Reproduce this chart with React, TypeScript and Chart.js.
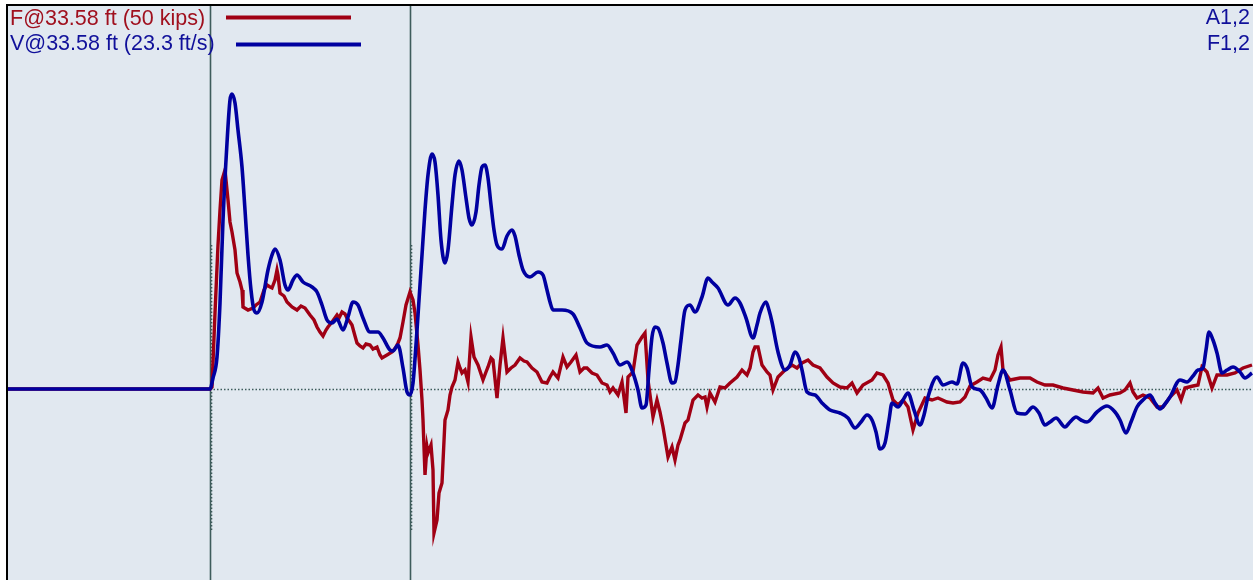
import React, { useEffect, useRef } from "react";
import { Chart, registerables } from "chart.js";

Chart.register(...registerables);

// Time in samples relative to impact (0 = impact, 200 = 2L/c)
const velocityTime = [-203, 0, 3, 7, 10, 13, 17, 20, 22, 25, 28, 32, 35, 38, 41, 44, 47, 52, 58, 62, 65, 70, 75, 78, 83, 87, 93, 102, 107, 112, 117, 122, 127, 133, 138, 143, 148, 153, 160, 168, 173, 180, 183, 188, 193, 197, 200, 203, 206, 209, 212, 215, 218, 222, 225, 228, 231, 235, 238, 242, 245, 249, 252, 256, 259, 262, 266, 269, 272, 275, 278, 281, 284, 287, 292, 297, 302, 305, 309, 313, 320, 328, 333, 337, 340, 343, 352, 363, 370, 377, 390, 397, 403, 410, 417, 423, 428, 432, 436, 439, 442, 445, 448, 453, 457, 462, 465, 468, 471, 475, 480, 485, 492, 498, 502, 508, 518, 525, 530, 536, 543, 547, 550, 556, 559, 562, 568, 575, 580, 585, 589, 592, 597, 605, 612, 620, 630, 638, 645, 651, 657, 662, 666, 670, 675, 679, 682, 688, 693, 698, 704, 710, 714, 718, 727, 733, 742, 747, 753, 757, 762, 770, 776, 782, 788, 793, 800, 807, 815, 823, 829, 835, 840, 846, 855, 860, 866, 871, 877, 887, 897, 905, 910, 916, 921, 927, 933, 940, 945, 950, 955, 960, 970, 977, 983, 988, 993, 996, 999, 1003, 1007, 1012, 1017, 1023, 1030, 1035, 1042];
const velocityTrace = [0, 0, 11, 32, 86, 169, 246, 289, 295, 286, 259, 222, 179, 134, 99, 79, 76, 87, 119, 134, 140, 129, 104, 99, 109, 114, 107, 102, 97, 84, 69, 66, 70, 59, 72, 87, 84, 71, 57, 57, 51, 39, 38, 44, 21, -3, -6, 6, 44, 89, 134, 179, 214, 235, 227, 194, 149, 126, 139, 184, 214, 228, 219, 191, 171, 164, 177, 204, 222, 224, 211, 184, 159, 144, 140, 153, 159, 153, 134, 119, 112, 117, 114, 99, 87, 79, 79, 75, 61, 46, 42, 44, 36, 24, 27, 16, -1, -19, -16, 19, 52, 62, 61, 46, 26, 6, 7, 24, 49, 79, 84, 77, 92, 111, 107, 101, 84, 91, 86, 71, 51, 64, 76, 87, 79, 67, 37, 19, 24, 37, 31, 19, -3, -6, -14, -21, -24, -29, -39, -33, -26, -31, -43, -60, -54, -31, -14, -18, -11, -4, -21, -36, -26, -8, 12, 4, 7, 5, 26, 21, 2, -1, -9, -19, 4, 19, -1, -24, -25, -18, -24, -36, -33, -29, -38, -33, -28, -31, -33, -23, -17, -23, -31, -44, -33, -18, -11, -6, -14, -20, -15, -8, 9, 7, 13, 19, 21, 39, 57, 49, 36, 16, 19, 22, 17, 11, 16];

const forceTime = [-203, 0, 2, 5, 8, 10, 12, 15, 18, 20, 22, 25, 27, 30, 32, 33, 38, 43, 46, 50, 54, 57, 60, 62, 65, 67, 68, 70, 74, 77, 82, 87, 91, 95, 100, 104, 107, 110, 113, 116, 118, 122, 127, 129, 132, 135, 137, 140, 142, 145, 147, 150, 153, 156, 160, 163, 167, 170, 172, 177, 182, 186, 188, 190, 193, 196, 200, 203, 205, 208, 210, 212, 213, 215, 217, 218, 221, 223, 224, 227, 229, 232, 235, 238, 240, 242, 245, 248, 250, 252, 255, 258, 261, 264, 268, 273, 276, 278, 281, 283, 287, 290, 293, 295, 297, 301, 305, 310, 314, 317, 322, 327, 332, 337, 340, 343, 348, 353, 357, 361, 366, 370, 374, 377, 382, 387, 392, 397, 400, 403, 408, 412, 416, 418, 423, 427, 432, 435, 438, 443, 447, 450, 453, 458, 462, 465, 468, 470, 475, 478, 483, 488, 492, 495, 497, 500, 505, 510, 515, 520, 527, 532, 537, 540, 543, 545, 548, 552, 557, 560, 563, 568, 575, 582, 587, 592, 598, 603, 610, 617, 623, 630, 637, 642, 647, 653, 662, 667, 673, 678, 683, 688, 693, 698, 703, 708, 715, 722, 728, 737, 743, 750, 755, 760, 767, 773, 780, 785, 788, 791, 793, 800, 810, 820, 827, 835, 843, 853, 863, 873, 883, 888, 893, 900, 910, 915, 920, 923, 927, 933, 940, 947, 953, 960, 967, 971, 975, 983, 988, 992, 997, 1002, 1007, 1017, 1025, 1033, 1042];
const forceTrace = [0, 0, 2, 76, 144, 179, 209, 219, 189, 167, 157, 139, 116, 107, 99, 82, 79, 81, 84, 87, 99, 104, 102, 101, 109, 119, 114, 96, 93, 87, 82, 79, 83, 81, 74, 69, 62, 57, 53, 59, 62, 67, 74, 71, 77, 75, 71, 67, 64, 53, 46, 43, 41, 45, 44, 40, 42, 34, 31, 34, 37, 42, 46, 51, 67, 84, 97, 89, 76, 44, 19, -11, -31, -86, -58, -64, -56, -81, -144, -131, -104, -94, -31, -21, -6, 2, 9, 27, 21, 16, 19, 7, 52, 32, 24, 9, 17, 22, 31, 29, -9, 24, 51, 34, 17, 21, 24, 31, 28, 27, 21, 17, 7, 6, 12, 17, 11, 32, 22, 27, 34, 17, 21, 21, 16, 14, 6, 4, -3, 1, -6, 7, -24, 12, 17, 44, 52, 56, 9, -28, -11, -23, -38, -68, -58, -71, -56, -51, -34, -31, -11, -6, -9, -8, -18, -4, -13, 2, 1, 6, 12, 19, 14, 21, 37, 42, 42, 24, 17, 14, -1, 12, 19, 24, 21, 26, 29, 24, 21, 12, 6, 2, 1, 6, -4, 4, 9, 16, 14, 6, -11, -16, -11, -18, -41, -24, -9, -11, -9, -13, -14, -13, -8, 3, 7, 11, 9, 19, 34, 42, 19, 9, 11, 11, 7, 4, 4, 1, -1, -3, -4, 1, -9, -6, -4, -1, 6, -3, -9, -6, -9, -18, -18, -8, -1, -11, 1, 3, 4, 22, 17, 1, 14, 14, 16, 21, 24];

const markerTimes = [0, 200];
const legendLabels = ["F@33.58 ft (50 kips)", "V@33.58 ft (23.3 ft/s)"];
const cornerLabels = ["A1,2", "F1,2"];

const T_MIN = -202;
const T_MAX = 1043;
const A_MIN = -191;
const A_MAX = 383;

const RED = "#A00014";
const BLUE = "#0000A0";
const GUIDE = "#3E5C5C";
const FONT = "21.5px 'Liberation Sans', Arial, sans-serif";

const decorPlugin = {
  id: "decor",
  beforeDraw(chart: any) {
    const { ctx, chartArea: a } = chart;
    ctx.save();
    ctx.fillStyle = "#E1E8F0";
    ctx.fillRect(a.left, a.top, a.right - a.left, a.bottom - a.top);
    ctx.fillStyle = "#000";
    ctx.fillRect(a.left - 2, a.top - 2, 2, a.bottom - a.top + 2);
    ctx.fillRect(a.left - 2, a.top - 2, a.right - a.left + 2, 2);
    ctx.restore();
  },
  beforeDatasetsDraw(chart: any) {
    const { ctx, chartArea: a, scales } = chart;
    const xs = scales.x;
    const ys = scales.y;
    ctx.save();
    const y0 = Math.round(ys.getPixelForValue(0)) + 0.5;
    ctx.strokeStyle = GUIDE;
    ctx.lineWidth = 1.6;
    ctx.setLineDash([1.5, 2]);
    ctx.beginPath();
    ctx.moveTo(xs.getPixelForValue(markerTimes[0]), y0);
    ctx.lineTo(a.right, y0);
    ctx.stroke();
    markerTimes.forEach((t) => {
      const x = xs.getPixelForValue(t) + 1.5;
      ctx.beginPath();
      ctx.moveTo(x, ys.getPixelForValue(144));
      ctx.lineTo(x, ys.getPixelForValue(-141));
      ctx.stroke();
    });
    ctx.setLineDash([]);
    ctx.lineWidth = 1.6;
    markerTimes.forEach((t) => {
      const x = xs.getPixelForValue(t) + 0.5;
      ctx.beginPath();
      ctx.moveTo(x, a.top);
      ctx.lineTo(x, a.bottom);
      ctx.stroke();
    });
    ctx.restore();
  },
  afterDraw(chart: any) {
    const { ctx } = chart;
    ctx.save();
    ctx.font = FONT;
    ctx.textBaseline = "alphabetic";
    ctx.textAlign = "left";
    ctx.fillStyle = "#A0101E";
    ctx.fillText(legendLabels[0], 10, 25);
    ctx.fillStyle = "#10109A";
    ctx.fillText(legendLabels[1], 10, 50);
    ctx.lineWidth = 4;
    ctx.strokeStyle = RED;
    ctx.beginPath();
    ctx.moveTo(226, 17.5);
    ctx.lineTo(351, 17.5);
    ctx.stroke();
    ctx.strokeStyle = BLUE;
    ctx.beginPath();
    ctx.moveTo(236, 44.5);
    ctx.lineTo(361, 44.5);
    ctx.stroke();
    ctx.textAlign = "right";
    ctx.fillStyle = "#10109A";
    ctx.fillText(cornerLabels[0], 1250, 24);
    ctx.fillText(cornerLabels[1], 1250, 50);
    ctx.restore();
  },
};

export default function App() {
  const ref = useRef<HTMLCanvasElement | null>(null);
  useEffect(() => {
    if (!ref.current) return;
    const chart = new Chart(ref.current, {
      type: "line",
      data: {
        datasets: [
          {
            label: legendLabels[1],
            data: velocityTime.map((t, i) => ({ x: t, y: velocityTrace[i] })),
            borderColor: BLUE,
            borderWidth: 3.6,
            pointRadius: 0,
            cubicInterpolationMode: "monotone",
            order: 0,
          },
          {
            label: legendLabels[0],
            data: forceTime.map((t, i) => ({ x: t, y: forceTrace[i] })),
            borderColor: RED,
            borderWidth: 3.4,
            pointRadius: 0,
            tension: 0,
            order: 1,
          },
        ],
      },
      options: {
        animation: false,
        responsive: false,
        devicePixelRatio: 1,
        layout: { padding: { left: 8, top: 6, right: 0, bottom: 0 } },
        plugins: { legend: { display: false }, tooltip: { enabled: false }, title: { display: false } },
        scales: {
          x: { type: "linear", min: T_MIN, max: T_MAX, display: false },
          y: { type: "linear", min: A_MIN, max: A_MAX, display: false },
        },
      },
      plugins: [decorPlugin],
    } as any);
    return () => chart.destroy();
  }, []);
  return (
    <div style={{ position: "fixed", left: 0, top: 0, width: 1253, height: 580, background: "#fff" }}>
      <canvas ref={ref} width={1253} height={580} style={{ display: "block" }} />
    </div>
  );
}
